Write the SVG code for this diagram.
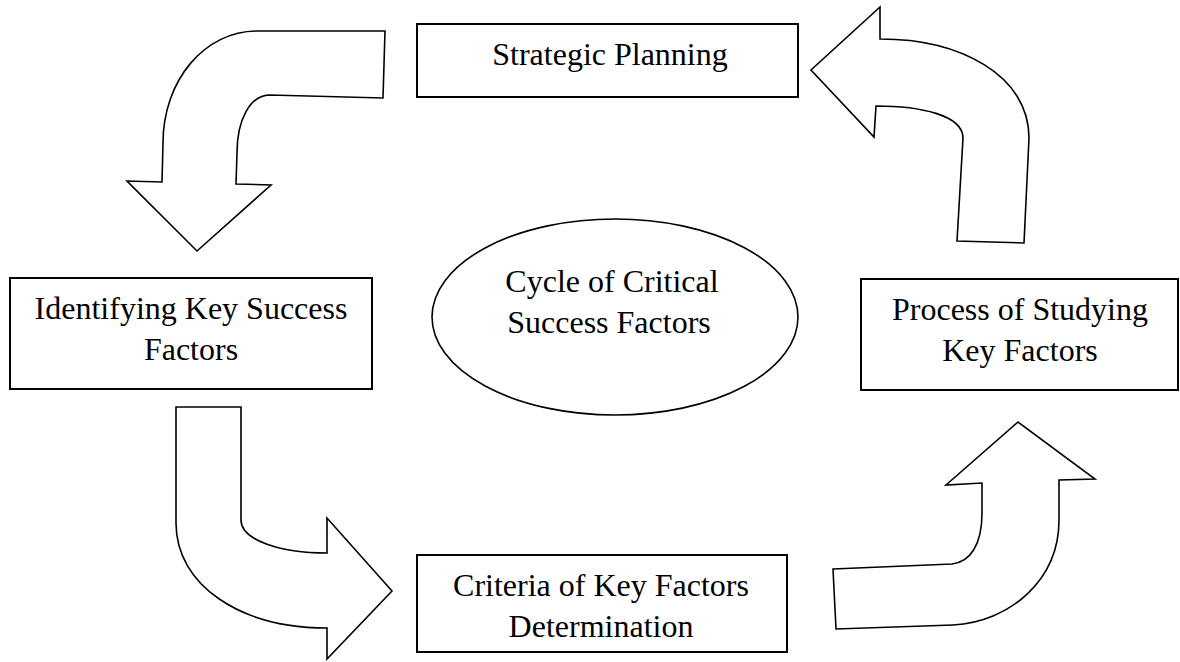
<svg xmlns="http://www.w3.org/2000/svg" width="1180" height="662" viewBox="0 0 1180 662">
  <style>
    .box { fill: #ffffff; stroke: #000000; stroke-width: 2; }
    .oval { fill: #ffffff; stroke: #000000; stroke-width: 1.6; }
    .arrow { fill: #ffffff; stroke: #000000; stroke-width: 1.6; stroke-linejoin: miter; }
    .label { font-family: "Liberation Serif", "Times New Roman", serif; font-size: 32px; fill: #000000; text-anchor: middle; }
  </style>
  <rect width="1180" height="662" fill="#ffffff"/>

  <!-- curved block arrows linking the stages -->
  <g id="connectors">
    <path class="arrow" d="M385,31 L257,31 C205,31 163,80 163,143 L162,182 L127,181 L197,251 L271,185 L236,184 L237,153 C237,120 250,95 270,95 L383,98 Z"/>
    <path class="arrow" d="M1024,243 L1029,138 C1029,75 960,39 880,39 L880,7 L811,70 L874,137 L876,106 C920,106 963,115 963,138 L957,241 Z"/>
    <path class="arrow" d="M176,407 L241,407 L241,520 C241,540 280,553 327,553 L327,518 L392,591 L327,659 L327,628 C240,628 176,585 176,523 Z"/>
    <path class="arrow" d="M833,569 L952,564 C970,562 982,545 982,513 L982,483 L946,485 L1018,422 L1095,479 L1059,480 L1059,520 C1059,580 1010,622 953,625 L836,629 Z"/>
  </g>

  <g id="strategic-planning">
    <rect class="box" x="417" y="24" width="381" height="73"/>
    <text class="label" x="610" y="65">Strategic Planning</text>
  </g>

  <g id="identifying-key-success-factors">
    <rect class="box" x="10" y="278" width="362" height="111"/>
    <text class="label" x="191" y="319">Identifying Key Success</text>
    <text class="label" x="191" y="360">Factors</text>
  </g>

  <g id="cycle-of-critical-success-factors">
    <ellipse class="oval" cx="615" cy="317" rx="183" ry="98"/>
    <text class="label" x="612" y="292">Cycle of Critical</text>
    <text class="label" x="609" y="333">Success Factors</text>
  </g>

  <g id="process-of-studying-key-factors">
    <rect class="box" x="861" y="279" width="317" height="111"/>
    <text class="label" x="1020" y="320">Process of Studying</text>
    <text class="label" x="1020" y="361">Key Factors</text>
  </g>

  <g id="criteria-of-key-factors-determination">
    <rect class="box" x="417" y="555" width="370" height="97"/>
    <text class="label" x="601" y="596">Criteria of Key Factors</text>
    <text class="label" x="601" y="637">Determination</text>
  </g>
</svg>
